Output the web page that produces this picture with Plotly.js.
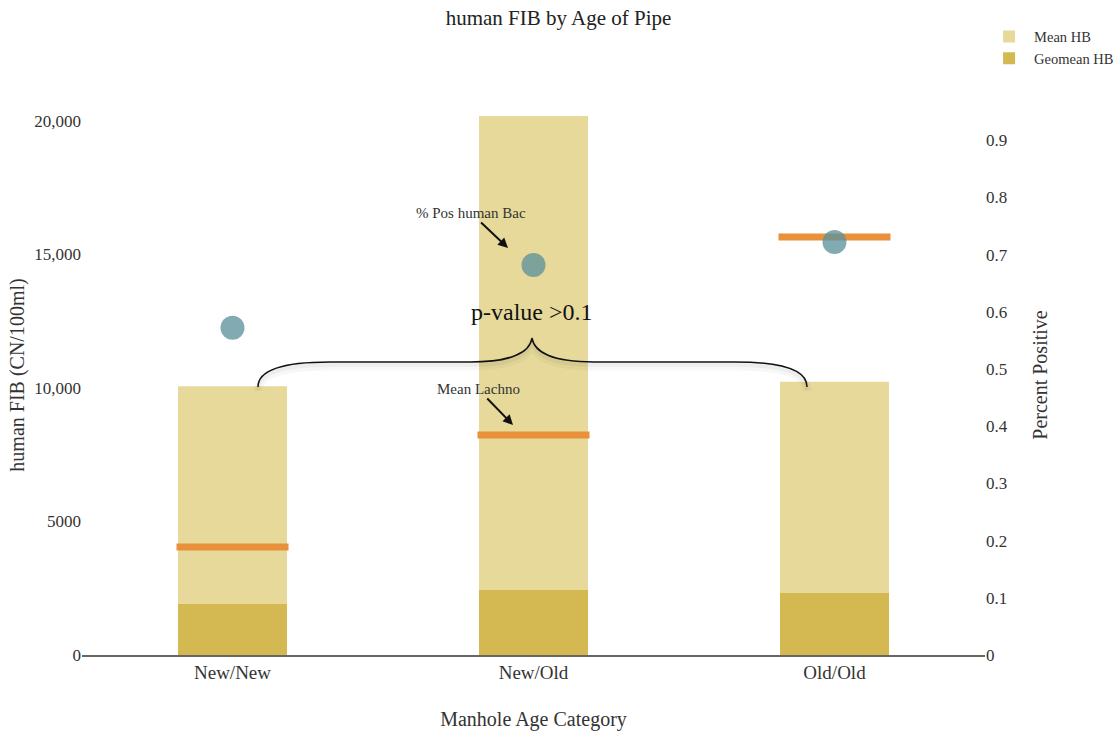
<!DOCTYPE html>
<html>
<head>
<meta charset="utf-8">
<script src="https://cdn.plot.ly/plotly-3.0.1.min.js"></script>
<style>html,body{margin:0;padding:0;background:#fff;}#chart{width:1117px;height:732px;}</style>
</head>
<body>
<div id="chart"></div>
<script>
// ---- data ----
var categories = ["New/New", "New/Old", "Old/Old"];
var meanHB = [10070, 20190, 10230];
var geomeanHB = [1910, 2430, 2320];
var meanLachno = [4045, 8240, 15660];
var pctPosHumanBac = [0.572, 0.682, 0.722];

var FONT = "Liberation Serif, Times New Roman, serif";
var TXT = "#333333";

var traces = [
  {type: "bar", name: "Mean HB", x: categories, y: meanHB, width: 0.362,
   marker: {color: "#e6d99a"}, hoverinfo: "y"},
  {type: "bar", name: "Geomean HB", x: categories, y: geomeanHB, width: 0.362,
   marker: {color: "#d4b852"}, hoverinfo: "y"},
  {type: "scatter", mode: "markers", name: "Mean Lachno", x: categories, y: meanLachno,
   showlegend: false,
   marker: {symbol: "line-ew-open", size: 80, color: "#e8913a", line: {color: "#e8913a", width: 7}}},
  {type: "scatter", mode: "markers", name: "% Pos human Bac", x: categories, y: pctPosHumanBac,
   yaxis: "y2", showlegend: false,
   marker: {symbol: "circle", size: 24, color: "rgba(95,146,156,0.78)"}}
];

// brace path (paper coords) built from pixel positions
var L = 82, R = 985, T = 95, B = 655;
function px(x){ return ((x - L) / (R - L)).toFixed(4); }
function py(y){ return ((B - y) / (B - T)).toFixed(4); }
function bracePath(dy){
  var p = function(x, y){ return px(x) + "," + py(y + dy); };
  return "M " + p(258,387) + " C " + p(258,370) + " " + p(282,362) + " " + p(330,362) +
         " L " + p(470,362) + " C " + p(512,362) + " " + p(530,352) + " " + p(532,338) +
         " C " + p(534,352) + " " + p(552,362) + " " + p(594,362) +
         " L " + p(735,362) + " C " + p(783,362) + " " + p(807,370) + " " + p(807,387);
}

var layout = {
  width: 1117, height: 732,
  paper_bgcolor: "#fff", plot_bgcolor: "#fff",
  font: {family: FONT, color: TXT, size: 16},
  margin: {l: L, r: 1117 - R, t: T, b: 732 - B, autoexpand: false},
  barmode: "overlay",
  title: {text: "human FIB by Age of Pipe", font: {family: FONT, size: 21, color: "#222"},
          x: 0.5, xanchor: "center", y: 1 - 18/732, yanchor: "middle"},
  xaxis: {type: "category", range: [-0.5, 2.5], showgrid: false, zeroline: false, automargin: false,
          showline: true, linecolor: "#666", linewidth: 1.5, ticks: "",
          tickfont: {family: FONT, size: 19, color: TXT},
          title: {text: "Manhole Age Category", font: {family: FONT, size: 20, color: TXT}, standoff: 29}},
  yaxis: {range: [0, 20974], dtick: 5000, exponentformat: "none", showgrid: false, zeroline: false,
          showline: false, ticks: "", automargin: false,
          tickfont: {family: FONT, size: 17, color: TXT},
          title: {text: "human FIB (CN/100ml)", font: {family: FONT, size: 20, color: TXT}, standoff: 4}},
  yaxis2: {overlaying: "y", side: "right", range: [0, 0.979], dtick: 0.1, showgrid: false,
           zeroline: false, showline: false, ticks: "", automargin: false,
           tickfont: {family: FONT, size: 17, color: TXT},
           title: {text: "Percent Positive", font: {family: FONT, size: 20, color: TXT}, standoff: 26}},
  legend: {x: 0.999, y: 1.133, xanchor: "left", yanchor: "top", bgcolor: "rgba(0,0,0,0)",
           font: {family: FONT, size: 14.5, color: TXT}, traceorder: "normal", itemwidth: 40},
  shapes: [
    {type: "path", xref: "paper", yref: "paper", path: bracePath(4), line: {color: "rgba(0,0,0,0.03)", width: 9}},
    {type: "path", xref: "paper", yref: "paper", path: bracePath(3), line: {color: "rgba(0,0,0,0.04)", width: 4}},
    {type: "path", xref: "paper", yref: "paper", path: bracePath(0), line: {color: "#111", width: 1.5}}
  ],
  annotations: [
    {xref: "paper", yref: "paper", x: +px(508), y: +py(248), ax: -37, ay: -35,
     text: "% Pos human Bac", showarrow: true, arrowhead: 2, arrowsize: 1, arrowwidth: 2, arrowcolor: "#111",
     font: {family: FONT, size: 15, color: TXT}},
    {xref: "paper", yref: "paper", x: +px(513), y: +py(425), ax: -35, ay: -36,
     text: "Mean Lachno", showarrow: true, arrowhead: 2, arrowsize: 1, arrowwidth: 2, arrowcolor: "#111",
     font: {family: FONT, size: 15, color: TXT}},
    {xref: "paper", yref: "paper", x: +px(532), y: +py(312), xanchor: "center", yanchor: "middle",
     text: "p-value >0.1", showarrow: false, font: {family: FONT, size: 24, color: "#111"}}
  ]
};

Plotly.newPlot("chart", traces, layout, {displayModeBar: false, staticPlot: true});
</script>
</body>
</html>
